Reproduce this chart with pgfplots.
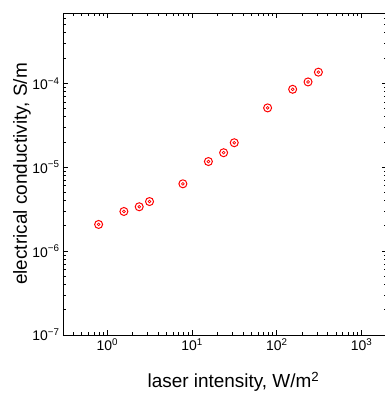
\documentclass[border=0pt]{standalone}
\usepackage{pgfplots}
\pgfplotsset{compat=1.18}
\usepackage{pgfplotstable}
\usepackage{fontspec}
\setmainfont{Liberation Sans}

\pgfplotstableread{
x y
0.79 2.08e-6
1.57 2.97e-6
2.38 3.38e-6
3.15 3.9e-6
7.8 6.35e-6
15.6 1.17e-5
23.6 1.49e-5
31.5 1.96e-5
78 5.1e-5
154 8.5e-5
234 1.04e-4
310 1.36e-4
}\datatable

\begin{document}
\begin{tikzpicture}
\begin{loglogaxis}[name=ax, scale only axis, width=324bp, height=322bp,
  xmin=0.3, xmax=2000, ymin=1e-7, ymax=6.9e-4,
  xtick={1,10,100,1000},
  xticklabels={10\textsuperscript{0},10\textsuperscript{1},10\textsuperscript{2},10\textsuperscript{3}},
  minor xtick={0.3,0.4,0.5,0.6,0.7,0.8,0.9,2,3,4,5,6,7,8,9,20,30,40,50,60,70,80,90,200,300,400,500,600,700,800,900,2000},
  ytick={1e-7,1e-6,1e-5,1e-4},
  yticklabels={10\textsuperscript{−7},10\textsuperscript{−6},10\textsuperscript{−5},10\textsuperscript{−4}},
  minor ytick={2e-7,3e-7,4e-7,5e-7,6e-7,7e-7,8e-7,9e-7,2e-6,3e-6,4e-6,5e-6,6e-6,7e-6,8e-6,9e-6,2e-5,3e-5,4e-5,5e-5,6e-5,7e-5,8e-5,9e-5,2e-4,3e-4,4e-4,5e-4,6e-4},
  tick pos=both,
  tick align=inside,
  major tick length=5bp, minor tick length=3bp,
  every tick/.style={black, line width=0.9bp},
  axis line style={black, line width=0.9bp},
  tick label style={font=\fontsize{14}{16}\selectfont},
  label style={font=\fontsize{19}{22}\selectfont},
  xlabel={laser intensity, W/m\textsuperscript{2}},
  ylabel={electrical conductivity, S/m},
  xlabel style={at={(axis description cs:0.526,-0.163)}, anchor=base},
  ylabel style={at={(axis description cs:-0.1115,0.5)}, anchor=base},
  clip=false,
]
\addplot[only marks, mark=o, mark size=4bp, red, line width=1bp] table[x=x,y=y] {\datatable};
\addplot[only marks, mark=o, mark size=1.4bp, red, line width=0.7bp] table[x=x,y=y] {\datatable};
\end{loglogaxis}
\pgfresetboundingbox
\path[use as bounding box] ([xshift=-63bp,yshift=-58bp]ax.south west) rectangle ([xshift=-2bp,yshift=13bp]ax.north east);
\end{tikzpicture}
\end{document}
